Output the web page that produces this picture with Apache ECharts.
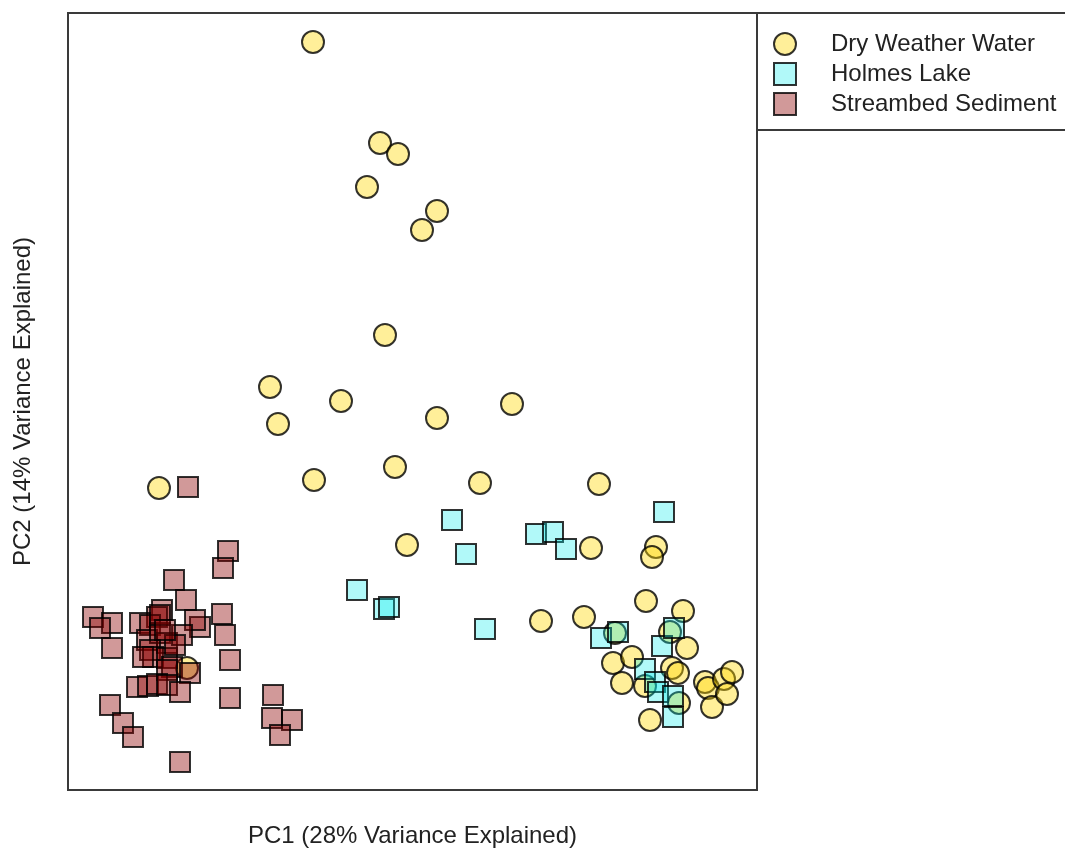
<!DOCTYPE html>
<html>
<head>
<meta charset="utf-8">
<title>PCA of microbial communities</title>
<script src="https://cdn.jsdelivr.net/npm/echarts@6/dist/echarts.min.js"></script>
<style>
  html, body { margin: 0; padding: 0; background: #ffffff; }
  #chart { width: 1065px; height: 850px; }
</style>
</head>
<body>
<div id="chart"></div>
<script>
// PCA scores: [PC1, PC2]
const dryWeatherWater = [
  [-0.99, 3.58], [-0.32, 2.57], [-0.14, 2.46], [-0.45, 2.13], [0.25, 1.89],
  [0.10, 1.70], [-0.27, 0.65], [-1.42, 0.13], [-1.34, -0.24], [-0.71, -0.01],
  [0.25, -0.18], [1.00, -0.04], [-0.17, -0.67], [-0.98, -0.80], [0.68, -0.83],
  [1.87, -0.84], [-2.53, -0.88], [-0.05, -1.45], [1.79, -1.48], [2.44, -1.47],
  [2.40, -1.57], [1.29, -2.21], [1.72, -2.17], [2.34, -2.01], [2.71, -2.11],
  [-2.25, -2.68], [2.03, -2.33], [2.58, -2.32], [2.75, -2.48], [2.01, -2.63],
  [2.20, -2.57], [2.10, -2.83], [2.33, -2.86], [2.60, -2.68], [2.66, -2.73],
  [2.67, -3.03], [2.38, -3.20], [2.93, -2.82], [2.96, -2.88], [3.00, -3.07],
  [3.12, -2.79], [3.20, -2.72], [3.15, -2.94]
];

const holmesLake = [
  [0.40, -1.20], [0.54, -1.54], [-0.55, -1.90], [-0.28, -2.09], [-0.23, -2.07],
  [0.73, -2.29], [1.24, -1.34], [1.41, -1.32], [1.54, -1.49], [2.52, -1.12],
  [1.89, -2.38], [2.06, -2.32], [2.50, -2.46], [2.62, -2.28], [2.33, -2.69],
  [2.43, -2.82], [2.46, -2.92], [2.61, -2.96], [2.61, -3.17]
];

const streambedSediment = [
  [-2.24, -0.87], [-1.84, -1.51], [-1.89, -1.68], [-2.38, -1.80], [-2.26, -2.00],
  [-3.19, -2.17], [-3.00, -2.23], [-3.12, -2.28], [-3.00, -2.48], [-1.90, -2.14],
  [-1.87, -2.35], [-1.82, -2.60], [-2.12, -2.27], [-2.17, -2.20], [-2.50, -2.10],
  [-2.55, -2.17], [-2.72, -2.23], [-2.62, -2.25], [-2.65, -2.40], [-2.52, -2.33],
  [-2.45, -2.43], [-2.30, -2.35], [-2.62, -2.50], [-2.59, -2.57], [-2.69, -2.57],
  [-2.45, -2.58], [-2.40, -2.67], [-2.45, -2.70], [-2.22, -2.73], [-2.75, -2.87],
  [-2.64, -2.86], [-2.55, -2.84], [-2.45, -2.85], [-2.32, -2.92], [-1.82, -2.98],
  [-3.02, -3.05], [-2.89, -3.23], [-2.79, -3.37], [-1.39, -2.95], [-1.40, -3.18],
  [-1.20, -3.20], [-1.32, -3.35], [-2.32, -3.62], [-2.52, -2.15], [-2.37, -2.45],
  [-2.47, -2.30]
];

const groupNames = ['Dry Weather Water', 'Holmes Lake', 'Streambed Sediment'];
const axisTitles = ['PC1 (28% Variance Explained)', 'PC2 (14% Variance Explained)'];

const font = '"Liberation Sans", Arial, sans-serif';
const markerBorder = { borderColor: '#000000', borderWidth: 2 };

const chart = echarts.init(document.getElementById('chart'), null, { renderer: 'canvas' });

chart.setOption({
  animation: false,
  backgroundColor: '#ffffff',
  grid: {
    left: 68, top: 13, width: 689, height: 777,
    outerBoundsMode: 'none', containLabel: false,
    show: true, borderColor: '#3a3a3a', borderWidth: 2, backgroundColor: 'transparent'
  },
  xAxis: {
    type: 'value', min: -3.44, max: 3.45,
    name: axisTitles[0], nameLocation: 'middle', nameGap: 34,
    nameTextStyle: { fontFamily: font, fontSize: 24, color: '#222222' },
    axisLine: { show: false }, axisTick: { show: false },
    axisLabel: { show: false }, splitLine: { show: false }
  },
  yAxis: {
    type: 'value', min: -3.90, max: 3.87,
    name: axisTitles[1], nameLocation: 'middle', nameGap: 33,
    nameTextStyle: { fontFamily: font, fontSize: 24, color: '#222222' },
    axisLine: { show: false }, axisTick: { show: false },
    axisLabel: { show: false }, splitLine: { show: false }
  },
  legend: {
    orient: 'vertical', left: 773, top: 32, padding: 0,
    itemWidth: 22, itemHeight: 22, itemGap: 6,
    data: groupNames,
    textStyle: {
      fontFamily: font, fontSize: 24, color: '#222222',
      lineHeight: 22, padding: [0, 0, 0, 30]
    }
  },
  graphic: [{
    type: 'rect', z: 0,
    shape: { x: 757, y: 13, width: 320, height: 117 },
    style: { fill: 'none', stroke: '#3a3a3a', lineWidth: 2 }
  }],
  series: [
    {
      name: groupNames[0], type: 'scatter', symbol: 'circle', symbolSize: 22,
      data: dryWeatherWater,
      itemStyle: Object.assign({ color: 'rgba(255,215,0,0.5)' }, markerBorder)
    },
    {
      name: groupNames[1], type: 'scatter', symbol: 'rect', symbolSize: 20,
      data: holmesLake,
      itemStyle: Object.assign({ color: 'rgba(0,235,235,0.38)' }, markerBorder)
    },
    {
      name: groupNames[2], type: 'scatter', symbol: 'rect', symbolSize: 20,
      data: streambedSediment,
      itemStyle: Object.assign({ color: 'rgba(139,0,0,0.5)' }, markerBorder)
    }
  ]
});
</script>
</body>
</html>
